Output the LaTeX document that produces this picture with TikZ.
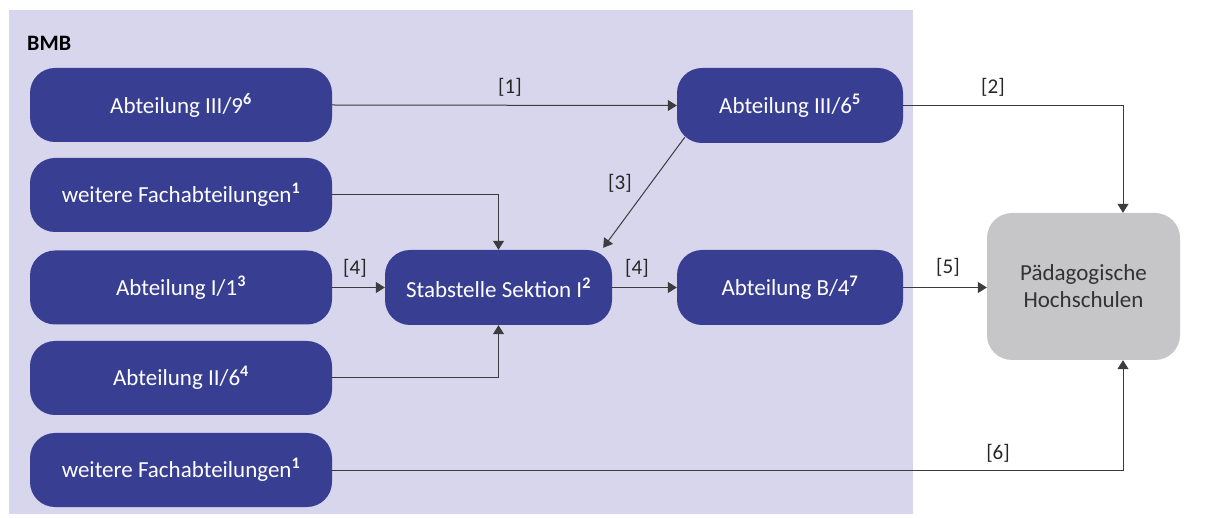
\documentclass[tikz,border=0pt]{standalone}
\usepackage{fontspec}
\setmainfont{Carlito}
\usetikzlibrary{arrows.meta,calc}
\definecolor{boxblue}{RGB}{56,62,146}
\definecolor{panelbg}{RGB}{216,214,237}
\definecolor{phgray}{RGB}{198,198,200}
\definecolor{linegray}{RGB}{60,60,60}
\newcommand\hsup[1]{\textsuperscript{\bfseries #1}}
\begin{document}
\begin{tikzpicture}[x=1pt,y=-1pt,
  dept/.style={fill=boxblue, rounded corners=25pt, minimum width=302pt, minimum height=74pt,
    inner sep=0pt, text=white, font=\fontsize{23}{27}\selectfont},
  lbl/.style={font=\fontsize{21}{25}\selectfont, text=black!85, inner sep=0pt},
  conn/.style={draw=linegray, line width=1pt, -{Triangle[length=9pt,width=11pt]}}]
\useasboundingbox (0,0) rectangle (1205,518);
\fill[white] (0,0) rectangle (1205,518);
\fill[panelbg] (9,10) rectangle (913,514);
\node[font=\bfseries\fontsize{22}{26}\selectfont, anchor=west, inner sep=0pt] (bmb) at (27,43) {BMB};

\node[dept] (l1) at (181,105) {Abteilung III/9\hsup{6}};
\node[dept] (l2) at (181,195) {weitere Fachabteilungen\hsup{1}};
\node[dept] (l3) at (181,287.5) {Abteilung I/1\hsup{3}};
\node[dept] (l4) at (181,378) {Abteilung II/6\hsup{4}};
\node[dept] (l5) at (181,470) {weitere Fachabteilungen\hsup{1}};
\node[dept, minimum width=227pt, minimum height=75pt] (stab) at (498.5,287.5) {Stabstelle Sektion I\hsup{2}};
\node[dept, minimum width=226pt, minimum height=75pt] (a36) at (790,105.5) {Abteilung III/6\hsup{5}};
\node[dept, minimum width=226pt, minimum height=75pt] (b4) at (790,287.5) {Abteilung B/4\hsup{7}};
\node[dept, fill=phgray, text=black!80, minimum width=193pt, minimum height=147pt, align=center]
  (ph) at (1083.5,286.5) {Pädagogische\\Hochschulen};

\coordinate (phin) at ($(ph.north)+(39.5,0)$);
\coordinate (phis) at ($(ph.south)+(39.5,0)$);

\draw[conn] (l1.east) -- (a36.west);
\draw[conn] (a36.east) -| (phin);
\draw[conn] ($(a36.south west)+(8,-6)$) -- ($(stab.north east)+(-9,-2)$);
\draw[conn] (l2.east) -| (stab.north);
\draw[conn] (l3.east) -- (stab.west);
\draw[conn] (l4.east) -| (stab.south);
\draw[conn] (stab.east) -- (b4.west);
\draw[conn] (b4.east) -- (b4.east -| ph.west);
\draw[conn] (l5.east) -| (phis);

\node[lbl] (t1) at (510,87) {[1]};
\node[lbl] (t2) at (993,87) {[2]};
\node[lbl] (t3) at (620,183) {[3]};
\node[lbl] (t4a) at (355,268) {[4]};
\node[lbl] (t4b) at (637,268) {[4]};
\node[lbl] (t5) at (948,267) {[5]};
\node[lbl] (t6) at (998,453) {[6]};
\end{tikzpicture}
\end{document}
